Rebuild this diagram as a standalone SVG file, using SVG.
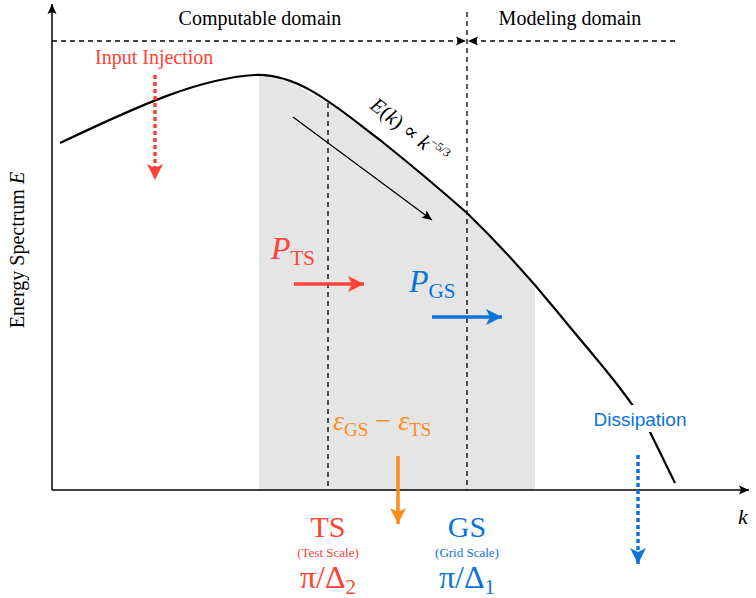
<svg xmlns="http://www.w3.org/2000/svg" width="756" height="598" viewBox="0 0 756 598">
<style>
.s{font-family:"Liberation Serif","DejaVu Serif",serif}
.i{font-style:italic}
.r{fill:#ff4136}.b{fill:#0a74da}.o{fill:#ff8c1a}
.d{stroke:#000;stroke-width:1.3;stroke-dasharray:5,4;fill:none}
</style>
<defs>
<marker id="ak" markerWidth="12" markerHeight="12" refX="10" refY="5" orient="auto" markerUnits="userSpaceOnUse"><path d="M0,0.5 L10,5 L0,9.5 L2,5 Z" fill="#000"/></marker>
<marker id="ar" markerWidth="18" markerHeight="18" refX="16" refY="8" orient="auto" markerUnits="userSpaceOnUse"><path d="M0,0 L16,8 L0,16 L4,8 Z" fill="#ff4136"/></marker>
<marker id="ab" markerWidth="18" markerHeight="18" refX="16" refY="8" orient="auto" markerUnits="userSpaceOnUse"><path d="M0,0 L16,8 L0,16 L4,8 Z" fill="#0a74da"/></marker>
<marker id="ao" markerWidth="18" markerHeight="18" refX="16" refY="8" orient="auto" markerUnits="userSpaceOnUse"><path d="M0,0 L16,8 L0,16 L4,8 Z" fill="#ff8c1a"/></marker>
</defs>
<rect width="756" height="598" fill="#fff"/>
<g id="band"><path d="M259,490 L259,75 L262,75 L290,82 L328,103 L370,133 L420,172 L467,213 L500,245 L535,285 L535,490 Z" fill="#e5e5e5"/></g>
<g id="connectors">
<path d="M52,490 V4" stroke="#000" stroke-width="1.5" marker-end="url(#ak)"/>
<path d="M52,490 H749" stroke="#000" stroke-width="1.5" marker-end="url(#ak)"/>
<path class="d" d="M328,103 V490"/>
<path class="d" d="M467,12 V490"/>
<path class="d" d="M52,41 H466" marker-end="url(#ak)"/>
<path class="d" d="M675,41 H468" marker-end="url(#ak)"/>
<path id="curve" d="M60,143 C140,105 200,78 255,75 C300,73 340,110 380,140 C420,172 450,198 467,213 C500,245 530,278 560,315 C595,358 625,390 650,432 L675,483" fill="none" stroke="#000" stroke-width="2.2"/>
<path d="M293,117 L432,220" stroke="#000" stroke-width="1.3" marker-end="url(#ak)"/>
<path d="M294,284 H364" stroke="#ff4136" stroke-width="3.5" marker-end="url(#ar)"/>
<path d="M432,317 H502" stroke="#0a74da" stroke-width="3.5" marker-end="url(#ab)"/>
<path d="M398,456 V524" stroke="#ff8c1a" stroke-width="3.5" marker-end="url(#ao)"/>
<path d="M155,75 V180" stroke="#ff4136" stroke-width="3.5" stroke-dasharray="4,3" marker-end="url(#ar)"/>
<path d="M638,455 V564" stroke="#0a74da" stroke-width="3.5" stroke-dasharray="4,3" marker-end="url(#ab)"/>
</g>
<g id="labels" class="s">
<text x="260" y="25" font-size="20" text-anchor="middle">Computable domain</text>
<text x="570" y="25" font-size="20" text-anchor="middle">Modeling domain</text>
<text x="95" y="64" font-size="20" class="r">Input Injection</text>
<text transform="translate(24,250) rotate(-90)" font-size="20" text-anchor="middle">Energy Spectrum <tspan class="i">E</tspan></text>
<text x="738" y="524" font-size="22" class="i">k</text>
<text transform="translate(405,136) rotate(38)" font-size="21" text-anchor="middle"><tspan class="i">E</tspan>(<tspan class="i">k</tspan>) ∝ <tspan class="i">k</tspan><tspan font-size="12" dy="-9">−5/3</tspan></text>
<text x="271" y="259" font-size="32" class="r i">P<tspan font-size="21" font-style="normal" dy="6">TS</tspan></text>
<text x="409" y="292" font-size="32" class="b i">P<tspan font-size="21" font-style="normal" dy="6">GS</tspan></text>
<text x="333" y="430" font-size="28" class="o"><tspan class="i">ε</tspan><tspan font-size="19" dy="6">GS</tspan><tspan dy="-6"> − </tspan><tspan class="i">ε</tspan><tspan font-size="19" dy="6">TS</tspan></text>
<rect x="584" y="405" width="112" height="27" fill="#fff"/>
<text x="640" y="426" font-size="19" class="b" text-anchor="middle" font-family="Liberation Sans,sans-serif">Dissipation</text>
<text x="328" y="537" font-size="30" class="r" text-anchor="middle">TS</text>
<text x="328" y="557" font-size="13" class="r" text-anchor="middle">(Test Scale)</text>
<text x="328" y="588" font-size="32" class="r" text-anchor="middle">π/Δ<tspan font-size="21" dy="6">2</tspan></text>
<text x="467" y="537" font-size="30" class="b" text-anchor="middle">GS</text>
<text x="467" y="557" font-size="13" class="b" text-anchor="middle">(Grid Scale)</text>
<text x="467" y="588" font-size="32" class="b" text-anchor="middle">π/Δ<tspan font-size="21" dy="6">1</tspan></text>
</g>
</svg>
